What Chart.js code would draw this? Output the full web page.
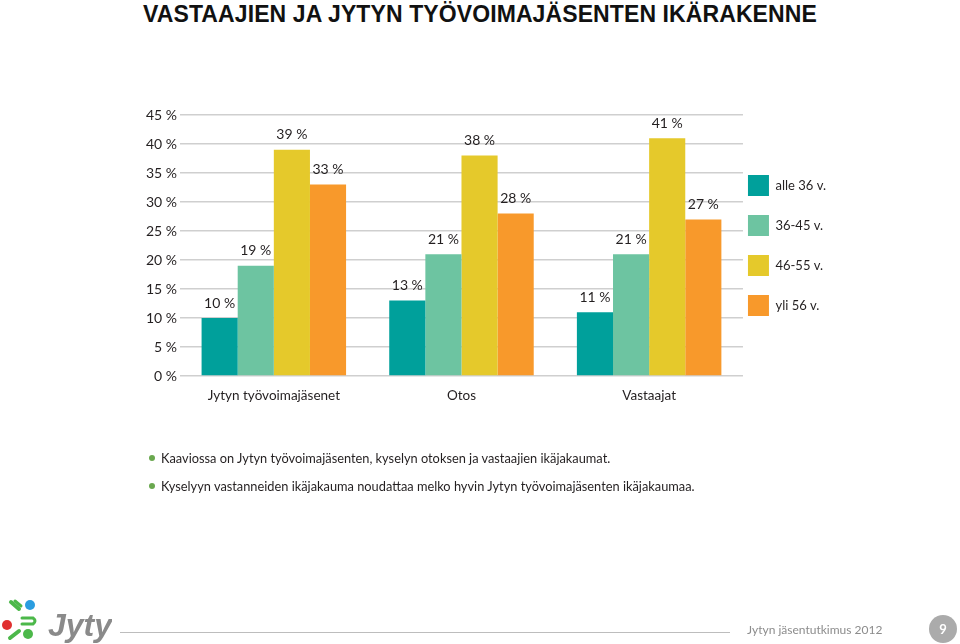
<!DOCTYPE html>
<html>
<head>
<meta charset="utf-8">
<script src="https://cdn.jsdelivr.net/npm/chart.js@4.4.1/dist/chart.umd.min.js"></script>
<style>
  html, body { margin: 0; padding: 0; background: #fff; }
  body { width: 960px; height: 644px; position: relative; overflow: hidden; font-family: Lato, "Open Sans", sans-serif; }
  #wrap { position: absolute; left: 0; top: 0; width: 960px; height: 644px; }
  .title { position: absolute; left: 143px; top: 1px; font-family: "Liberation Sans Narrow", "Arial Narrow", sans-serif; font-weight: bold; font-size: 23px; color: #111; letter-spacing: 0.1px; white-space: nowrap; }
  .bullet { position: absolute; left: 161px; font-size: 12.8px; color: #231f20; white-space: nowrap; }
  .dot { position: absolute; left: 149px; width: 6px; height: 6px; border-radius: 50%; background: #6aa84f; }
  .footline { position: absolute; left: 120px; top: 632px; width: 610px; height: 1px; background: #bdbdbd; }
  .foottext { position: absolute; left: 747px; top: 622px; font-size: 12px; color: #8c8c8c; white-space: nowrap; }
  .page { position: absolute; left: 929px; top: 615px; width: 28px; height: 28px; border-radius: 50%; background: #ababab; color: #fff; font-weight: bold; font-size: 13px; text-align: center; line-height: 28px; }
  .logo { position: absolute; left: 0; top: 598px; }
</style>
</head>
<body>
<div class="title">VASTAAJIEN JA JYTYN TYÖVOIMAJÄSENTEN IKÄRAKENNE</div>
<div id="wrap"><canvas id="c" width="960" height="644"></canvas></div>

<div class="dot" style="top:455px"></div>
<div class="bullet" style="top:450px">Kaaviossa on Jytyn työvoimajäsenten, kyselyn otoksen ja vastaajien ikäjakaumat.</div>
<div class="dot" style="top:483px"></div>
<div class="bullet" style="top:478px">Kyselyyn vastanneiden ikäjakauma noudattaa melko hyvin Jytyn työvoimajäsenten ikäjakaumaa.</div>

<svg class="logo" width="112" height="46" viewBox="0 0 112 46">
  <circle cx="7" cy="27" r="5" fill="#e03030"/>
  <circle cx="30" cy="7" r="5" fill="#2a9de0"/>
  <circle cx="28" cy="36" r="5" fill="#4cb84a"/>
  <path d="M11 4 L19 11" stroke="#4cb84a" stroke-width="4" stroke-linecap="round" fill="none"/>
  <path d="M15 3 L21 8" stroke="#4cb84a" stroke-width="3" stroke-linecap="round" fill="none"/>
  <path d="M22 20 L33 20 Q37 23 33 26 L22 26" stroke="#4cb84a" stroke-width="3" stroke-linecap="round" fill="none"/>
  <path d="M10 40 L19 33" stroke="#4cb84a" stroke-width="4" stroke-linecap="round" fill="none"/>
  <text x="48" y="38" font-family="Liberation Sans, Arial, sans-serif" font-style="italic" font-weight="bold" font-size="32" fill="#8a8a8a">Jyty</text>
</svg>
<div class="footline"></div>
<div class="foottext">Jytyn jäsentutkimus 2012</div>
<div class="page">9</div>

<script>
const categories = ["Jytyn työvoimajäsenet", "Otos", "Vastaajat"];
const seriesNames = ["alle 36 v.", "36-45 v.", "46-55 v.", "yli 56 v."];
const alle36 = [10, 13, 11];
const v36_45 = [19, 21, 21];
const v46_55 = [39, 38, 41];
const yli56 = [33, 28, 27];
const yTicks = [0, 5, 10, 15, 20, 25, 30, 35, 40, 45];

const colors = ["#00a09b", "#6dc4a1", "#e5c92b", "#f8992b"];
const seriesValues = [alle36, v36_45, v46_55, yli56];

const valueLabels = {
  id: 'valueLabels',
  afterDatasetsDraw(chart) {
    const ctx = chart.ctx;
    ctx.save();
    ctx.font = '14px Lato, "Open Sans", sans-serif';
    ctx.fillStyle = '#231f20';
    ctx.textAlign = 'center';
    ctx.textBaseline = 'bottom';
    chart.data.datasets.forEach((ds, i) => {
      chart.getDatasetMeta(i).data.forEach((bar, j) => {
        ctx.fillText(ds.data[j] + ' %', bar.x, bar.y - 8);
      });
    });
    ctx.restore();
  }
};

const legendShift = {
  id: 'legendShift',
  afterLayout(chart) {
    const lg = chart.legend;
    const dx = -14, dy = -15;
    lg.left += dx; lg.right += dx;
    lg.top += dy; lg.bottom += dy;
    if (lg.legendHitBoxes) lg.legendHitBoxes.forEach(h => { h.left += dx; h.top += dy; });
  }
};

new Chart(document.getElementById('c'), {
  type: 'bar',
  data: {
    labels: categories,
    datasets: seriesNames.map((n, i) => ({
      label: n,
      data: seriesValues[i],
      backgroundColor: colors[i],
      borderWidth: 0,
      categoryPercentage: 0.77,
      barPercentage: 1.0
    }))
  },
  options: {
    responsive: false,
    animation: false,
    devicePixelRatio: 1,
    layout: { padding: { left: 130, top: 115, right: 110, bottom: 238 } },
    plugins: {
      legend: {
        position: 'right',
        align: 'center',
        labels: {
          boxWidth: 21, boxHeight: 21, padding: 19,
          color: '#231f20',
          font: { family: 'Lato, "Open Sans", sans-serif', size: 13 }
        }
      },
      tooltip: { enabled: false }
    },
    scales: {
      x: {
        grid: { display: false },
        border: { display: false },
        ticks: { color: '#231f20', padding: 4, font: { family: 'Lato, "Open Sans", sans-serif', size: 13.5 } },
        afterFit(s) { s.height = 30; }
      },
      y: {
        min: 0, max: 45,
        afterBuildTicks(s) { s.ticks = yTicks.map(v => ({ value: v })); },
        grid: { color: '#cfcfcf', lineWidth: 1.5, drawTicks: false },
        border: { display: false },
        ticks: {
          color: '#231f20', padding: 3,
          font: { family: 'Lato, "Open Sans", sans-serif', size: 14 },
          callback: v => v + ' %'
        },
        afterFit(s) { s.width = 50; }
      }
    }
  },
  plugins: [valueLabels, legendShift]
});
</script>
</body>
</html>
